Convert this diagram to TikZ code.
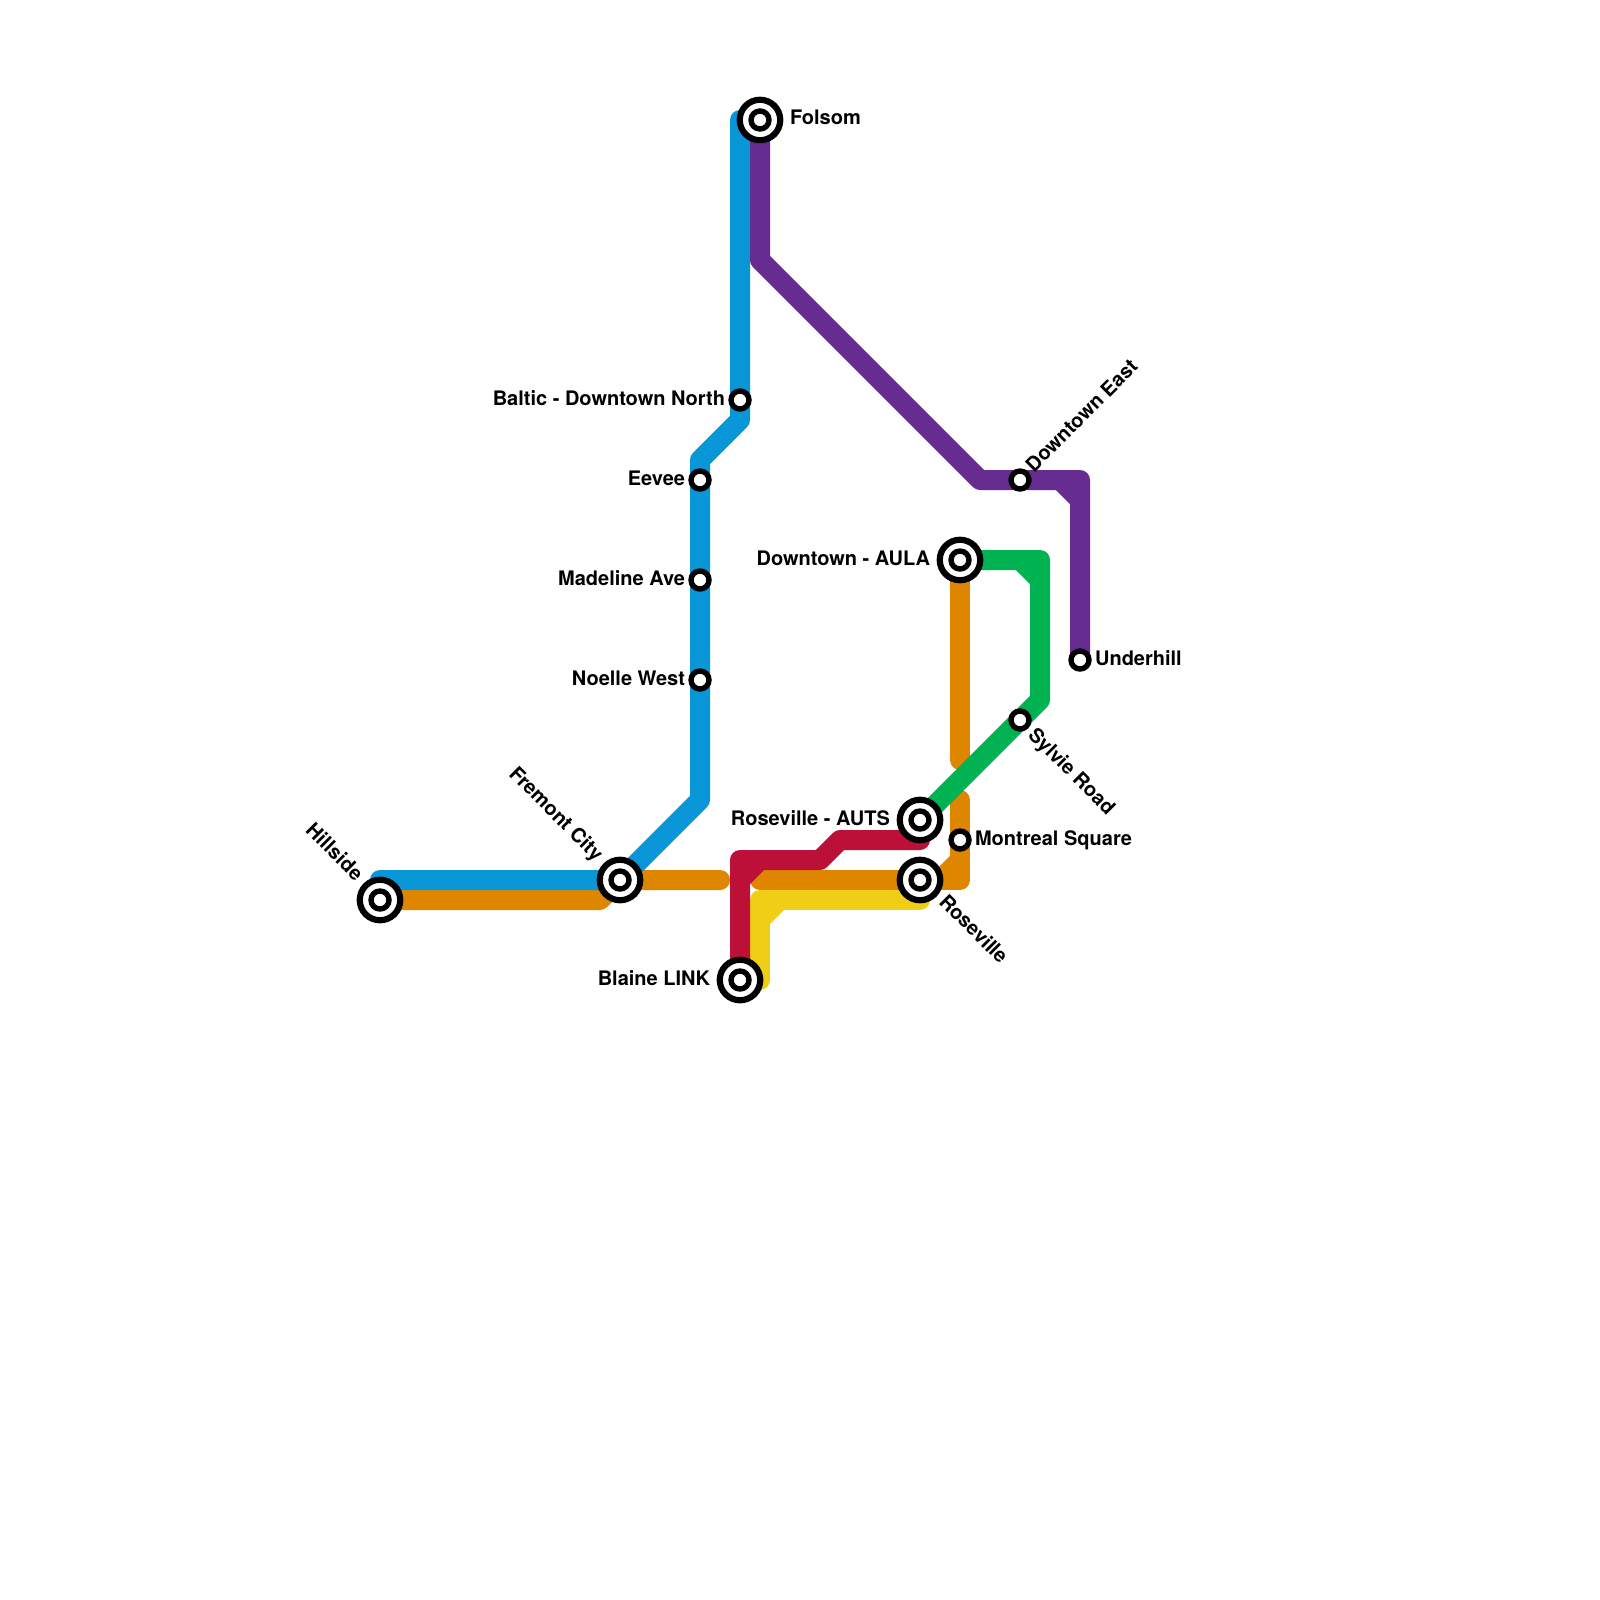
\documentclass[tikz,border=0pt]{standalone}
\usepackage{fontspec}
\setmainfont{TeX Gyre Heros}
\usetikzlibrary{backgrounds}
\definecolor{lblue}{HTML}{0896D7}
\definecolor{lorange}{HTML}{DF8600}
\definecolor{lpurple}{HTML}{662C90}
\definecolor{lgreen}{HTML}{00B251}
\definecolor{lred}{HTML}{BD1038}
\definecolor{lyellow}{HTML}{F0CE15}
\tikzset{
  x=1pt,y=-1pt,
  metro/.style={line width=20pt,line cap=round,line join=round},
  hubouter/.style={circle,draw=black,fill=white,line width=6.2pt,minimum size=40.5pt,inner sep=0pt,outer sep=0pt},
  stop/.style={circle,draw=black,fill=white,line width=5.4pt,minimum size=18pt,inner sep=0pt,outer sep=0pt},
  lbl/.style={inner sep=0pt,outer sep=0pt,text=black,font=\fontsize{20pt}{22pt}\selectfont\bfseries},
}
\begin{document}
\begin{tikzpicture}
\useasboundingbox (0,0) rectangle (1600,1600);
% stations
\node[hubouter] (hillside) at (380,900) {}; \node[stop] (hillsidec) at (380,900) {};
\node[hubouter] (fremont) at (620,880) {}; \node[stop] (fremontc) at (620,880) {};
\node[hubouter] (folsom) at (760,120) {}; \node[stop] (folsomc) at (760,120) {};
\node[hubouter] (blaine) at (740,980) {}; \node[stop] (blainec) at (740,980) {};
\node[hubouter] (auts) at (920,820) {}; \node[stop] (autsc) at (920,820) {};
\node[hubouter] (roseville) at (920,880) {}; \node[stop] (rosevillec) at (920,880) {};
\node[hubouter] (aula) at (960,560) {}; \node[stop] (aulac) at (960,560) {};
\node[stop] (baltic) at (740,400) {};
\node[stop] (eevee) at (700,480) {};
\node[stop] (madeline) at (700,580) {};
\node[stop] (noelle) at (700,680) {};
\node[stop] (montreal) at (960,840) {};
\node[stop] (dteast) at (1020,480) {};
\node[stop] (underhill) at (1080,660) {};
\node[stop] (sylvie) at (1020,720) {};
% labels
\node[lbl,anchor=base west] (tfolsom) at (790,124.5) {Folsom};
\node[lbl,anchor=base east] (tbaltic) at (725,405) {Baltic - Downtown North};
\node[lbl,anchor=base east] (teevee) at (685,485) {Eevee};
\node[lbl,anchor=base east] (tmadeline) at (685,585) {Madeline Ave};
\node[lbl,anchor=base east] (tnoelle) at (685,685) {Noelle West};
\node[lbl,anchor=base east] (taula) at (930,565) {Downtown - AULA};
\node[lbl,anchor=base east] (tauts) at (890,825) {Roseville - AUTS};
\node[lbl,anchor=base east] (tblaine) at (710,985) {Blaine LINK};
\node[lbl,anchor=base west] (tmontreal) at (975,845) {Montreal Square};
\node[lbl,anchor=base west] (tunderhill) at (1095,665) {Underhill};
\node[lbl,anchor=base east,rotate=-45] (thillside) at (355,882) {Hillside};
\node[lbl,anchor=base east,rotate=-45] (tfremont) at (595,862) {Fremont City};
\node[lbl,anchor=base west,rotate=45] (tdteast) at (1034,473) {Downtown East};
\node[lbl,anchor=base west,rotate=-45] (tsylvie) at (1027,736) {Sylvie Road};
\node[lbl,anchor=base west,rotate=-45] (troseville) at (938,903) {Roseville};
% lines
\begin{scope}[on background layer]
\draw[metro,lyellow] (blaine.center) -- (760,980) -- (760,900) -- (roseville.center |- 0,900);
\draw[metro,lyellow] (760,920) -- (780,900);
\draw[metro,lorange] (hillside.center) -- (600,900) -- (fremont.center) -- (720,880);
\draw[metro,lorange] (760,880) -- (960,880) -- (960,800);
\draw[metro,lorange] (940,880) -- (960,860);
\draw[metro,lorange] (aula.center) -- (960,760);
\draw[metro,lblue] (380,880) -- (fremont.center) -- (700,800) -- (700,460) -- (740,420) -- (740,120);
\draw[metro,lpurple] (folsom.center) -- (760,260) -- (980,480) -- (1080,480) -- (underhill.center);
\draw[metro,lpurple] (1060,480) -- (1080,500);
\draw[metro,lgreen] (aula.center) -- (1040,560) -- (1040,700) -- (auts.center);
\draw[metro,lgreen] (1020,560) -- (1040,580);
\draw[metro,lred] (blaine.center) -- (740,860) -- (820,860) -- (840,840) -- (auts.center |- 0,840);
\draw[metro,lred] (740,880) -- (760,860);
\end{scope}
\end{tikzpicture}
\end{document}
